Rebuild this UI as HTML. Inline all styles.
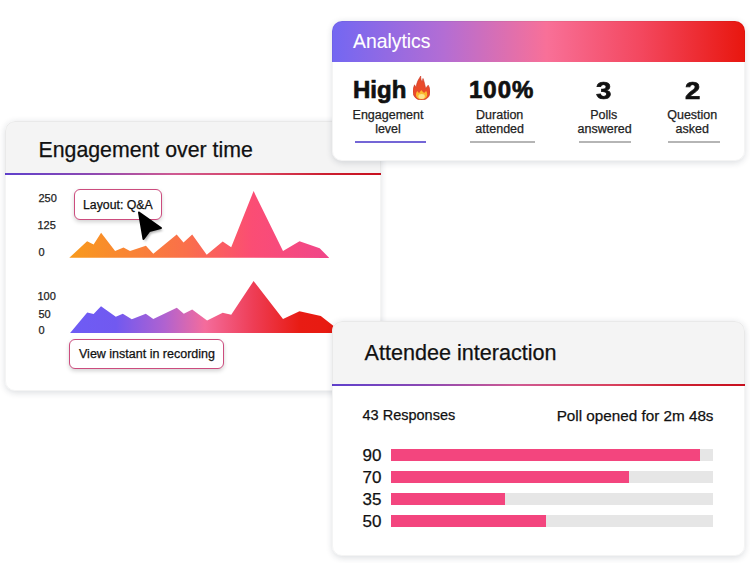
<!DOCTYPE html>
<html><head><meta charset="utf-8">
<style>
*{margin:0;padding:0;box-sizing:border-box}
html,body{width:750px;height:563px;overflow:hidden;background:#fff;font-family:"Liberation Sans",sans-serif;color:#111}
.t,.lbl{-webkit-text-stroke:0.25px currentColor}
.card{position:absolute;background:#fff;border-radius:10px;box-shadow:0 1.5px 6px rgba(30,40,60,0.15);overflow:hidden}
.card::after{content:"";position:absolute;left:0;top:0;right:0;bottom:0;border-radius:10px;border:1px solid rgba(0,0,0,0.045);z-index:10;pointer-events:none}
.t{position:absolute;line-height:1;white-space:nowrap}
#eng{left:4.5px;top:121px;width:376px;height:269.5px;z-index:1}
#ana{left:332px;top:21px;width:412.5px;height:139.5px;z-index:5}
#att{left:332px;top:321px;width:412.5px;height:235px;z-index:6}
.hdr{position:absolute;left:0;top:0;width:100%;background:#f4f4f4}
.grad{background:linear-gradient(90deg,#7367f2 0%,#b36dd4 27%,#f87098 52%,#f3475e 75%,#e8160e 100%)}
.line{position:absolute;left:0;width:100%;height:2.2px;background:linear-gradient(90deg,#5f40cc 0%,#8a48b4 22%,#cf5a92 45%,#d8415e 68%,#cc1f30 85%,#c80f1e 100%)}
.tip{position:absolute;background:#fff;border:1.6px solid #cc4c7e;border-radius:6px;box-shadow:0 2px 4px rgba(0,0,0,0.18)}
.bar{position:absolute;left:59px;width:322px;height:12px;background:#e6e6e6}
.bar i{position:absolute;left:0;top:0;height:12px;background:#f3457e}
.stat{position:absolute;text-align:center}
.ul{position:absolute;height:2px;background:#b5b5b5}
.ax{font-size:11px;color:#222}
.big{font-size:24px;font-weight:700;color:#111;-webkit-text-stroke:0.7px #111}
.lbl{position:absolute;text-align:center;font-size:12.5px;line-height:14.2px;color:#222;white-space:nowrap}
#chart,#cursor{position:absolute;left:0;top:0}
#chart{z-index:2}
#cursor{z-index:3}
.tip{z-index:2}
</style></head>
<body>

<!-- Engagement over time -->
<div class="card" id="eng">
  <div class="hdr" style="height:52px"></div>
  <div class="line" style="top:52px"></div>
  <div class="t" style="left:34px;top:19px;font-size:21.3px">Engagement over time</div>
  <div class="t ax" style="left:34px;top:71.5px">250</div>
  <div class="t ax" style="left:33px;top:98.5px">125</div>
  <div class="t ax" style="left:34px;top:126px">0</div>
  <div class="t ax" style="left:33px;top:170px">100</div>
  <div class="t ax" style="left:34px;top:187.5px">50</div>
  <div class="t ax" style="left:34px;top:203.5px">0</div>
</div>

<svg id="chart" width="750" height="563" viewBox="0 0 750 563">
  <defs>
    <linearGradient id="g1" gradientUnits="userSpaceOnUse" x1="69" y1="0" x2="330" y2="0">
      <stop offset="0" stop-color="#f89a1c"/>
      <stop offset="0.45" stop-color="#fa6f4b"/>
      <stop offset="0.7" stop-color="#fb4d74"/>
      <stop offset="1" stop-color="#f0468a"/>
    </linearGradient>
    <linearGradient id="g2" gradientUnits="userSpaceOnUse" x1="70" y1="0" x2="340" y2="0">
      <stop offset="0" stop-color="#6e5cf5"/>
      <stop offset="0.17" stop-color="#7159f0"/>
      <stop offset="0.35" stop-color="#b062d0"/>
      <stop offset="0.5" stop-color="#f46c9c"/>
      <stop offset="0.68" stop-color="#ee3d55"/>
      <stop offset="0.85" stop-color="#e81c14"/>
      <stop offset="1" stop-color="#e81a10"/>
    </linearGradient>
  </defs>
  <polygon fill="url(#g1)" points="69.3,257.8 87.1,241.2 93.6,244.4 101.1,232.8 115.1,250.9 123.5,247.6 130.0,250.9 145.9,245.7 153.3,253.7 176.7,234.5 183.5,242.5 192.2,234.4 206.7,254.7 222.7,241.4 231.2,247.2 253.6,191.1 283.0,251.0 299.5,241.2 319.7,248.3 329.3,257.9"/>
  <polygon fill="url(#g2)" points="70.1,332.9 87.2,312.4 93.6,314.1 101.0,306.2 115.8,316.7 122.8,313.7 131.8,319.3 145.8,313.7 153.3,319.0 176.8,307.7 183.8,313.7 192.2,309.5 207.1,320.6 222.7,312.7 231.2,314.8 253.6,281.1 283.0,319.0 299.5,311.2 320.8,315.9 333.6,325.9 340.0,332.9"/>
</svg>

<div class="tip" style="left:73.5px;top:189px;width:88.5px;height:31px"></div>
<div class="t" style="left:83px;top:198.5px;font-size:12.3px;z-index:2">Layout: Q&amp;A</div>
<div class="tip" style="left:69px;top:338.5px;width:155px;height:30.8px"></div>
<div class="t" style="left:79px;top:347.5px;font-size:12.5px;z-index:2">View instant in recording</div>

<svg id="cursor" width="750" height="563" viewBox="0 0 750 563">
  <defs><filter id="sh" x="-50%" y="-50%" width="200%" height="200%"><feGaussianBlur stdDeviation="1.2"/></filter></defs>
  <path d="M139.5,213.5 L162,229 L150,232 L144,240.5 Z" fill="rgba(0,0,0,0.3)" filter="url(#sh)" transform="translate(1,1.5)"/>
  <path d="M139,212.5 L161,228 L149.5,231 L143.5,239 Z" fill="#000" stroke="#000" stroke-width="2" stroke-linejoin="round"/>
</svg>

<!-- Analytics -->
<div class="card" id="ana">
  <div class="hdr grad" style="height:41px"></div>
  <div class="t" style="left:21px;top:10.5px;font-size:19.35px;color:#fff;-webkit-text-stroke:0.1px #fff">Analytics</div>
  <div class="stat" style="left:58.5px;top:0;width:0">
    <div class="t big" style="left:-37.5px;top:57px">High</div>
    <svg class="flame" style="position:absolute;left:22px;top:55px" width="17" height="24" viewBox="0 0 17 24">
      <path d="M8.5,24 C3.5,24 0,20.5 0,15.5 C0,12 1.3,10 1.6,8.8 C2.2,10.5 3,11 3.3,11.2 C3.5,6 6,3 7.7,0 C7.5,2.5 8.3,5 9.2,5.8 C9.6,4.5 9.8,3 10,2.5 C11,5 12,9 12.6,12.5 C13.6,11.5 14.3,10 15.2,9.2 C16.5,11.5 17,13.5 17,16 C17,20.8 13.5,24 8.5,24 Z" fill="#ea4a2a" stroke="#c8321e" stroke-width="0.6"/>
      <path d="M8.5,23.3 C5,23.3 3,21.3 3,18.5 C3,17 3.6,15.8 4.3,15 C5,16.2 5.5,16.8 6.3,17 C6.8,15.5 7.8,14.5 8.8,14.2 C9.5,15.5 10.3,16.5 11.5,16.8 C12,16 12.5,15.5 13.2,15 C13.9,16 14.2,17.2 14.2,18.5 C14.2,21.3 12,23.3 8.5,23.3 Z" fill="#fbb72e"/>
      <ellipse cx="8.6" cy="20.5" rx="3.2" ry="2.4" fill="#fde48c"/>
    </svg>
  </div>
  <div class="lbl" style="left:20.5px;top:87px;width:71px">Engagement<br>level</div>
  <div class="ul" style="left:23px;top:120px;width:71px;background:#7466d6"></div>

  <div class="t big" style="left:137px;top:57.3px;letter-spacing:1px">100%</div>
  <div class="lbl" style="left:135.2px;top:87px;width:65px">Duration<br>attended</div>
  <div class="ul" style="left:138px;top:120px;width:65px"></div>

  <div class="t big" style="left:264px;top:57.5px;transform:scaleX(1.15);transform-origin:left">3</div>
  <div class="lbl" style="left:245.5px;top:87px;width:52.5px">Polls<br>answered</div>
  <div class="ul" style="left:246.5px;top:120px;width:52.5px"></div>

  <div class="t big" style="left:353px;top:57.5px;transform:scaleX(1.15);transform-origin:left">2</div>
  <div class="lbl" style="left:334.5px;top:87px;width:51.5px">Question<br>asked</div>
  <div class="ul" style="left:336px;top:120px;width:51.5px"></div>
</div>

<!-- Attendee interaction -->
<div class="card" id="att">
  <div class="hdr" style="height:63px"></div>
  <div class="line" style="top:63.3px"></div>
  <div class="t" style="left:32.5px;top:21.3px;font-size:21.6px">Attendee interaction</div>
  <div class="t" style="left:30.5px;top:87px;font-size:14.5px">43 Responses</div>
  <div class="t" style="right:31px;top:86.5px;font-size:15.25px">Poll opened for 2m 48s</div>
  <div class="t" style="left:30.5px;top:126px;font-size:17px">90</div>
  <div class="t" style="left:30.5px;top:148px;font-size:17px">70</div>
  <div class="t" style="left:30.5px;top:170px;font-size:17px">35</div>
  <div class="t" style="left:30.5px;top:192px;font-size:17px">50</div>
  <div class="bar" style="top:128px"><i style="width:309px"></i></div>
  <div class="bar" style="top:150px"><i style="width:238px"></i></div>
  <div class="bar" style="top:172px"><i style="width:114px"></i></div>
  <div class="bar" style="top:194px"><i style="width:155px"></i></div>
</div>

</body></html>
